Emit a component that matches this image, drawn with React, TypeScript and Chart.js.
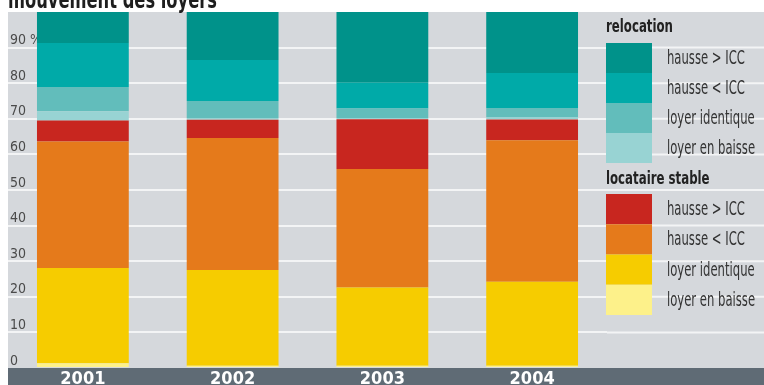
import React, { useEffect, useRef } from "react";
import { Chart, registerables } from "chart.js";

Chart.register(...registerables);

const TITLE = "mouvement des loyers";
const years = ["2001", "2002", "2003", "2004"];
const yTicks = [0, 10, 20, 30, 40, 50, 60, 70, 80, 90, 100];

// locataire stable (bottom of stack)
const stableBaisse = [1.3, 0.6, 0.6, 0.6];
const stableIdentique = [26.8, 26.9, 22.0, 23.6];
const stableHausseInf = [35.5, 37.1, 33.3, 39.8];
const stableHausseSup = [5.9, 5.1, 14.0, 5.8];
// relocation (top of stack)
const relocBaisse = [2.6, 0.5, 0.3, 0.7];
const relocIdentique = [6.8, 4.8, 2.7, 2.5];
const relocHausseInf = [12.4, 11.5, 7.2, 9.9];
const relocHausseSup = [8.7, 13.5, 19.9, 17.1];

const groupNames = ["relocation", "locataire stable"];
const seriesNames = ["hausse > ICC", "hausse < ICC", "loyer identique", "loyer en baisse"];

const COND = '"DejaVu Sans Condensed", "Liberation Sans Narrow", "DejaVu Sans", sans-serif';

const series = [
  { group: 1, label: seriesNames[3], data: stableBaisse, color: "#fdf18a" },
  { group: 1, label: seriesNames[2], data: stableIdentique, color: "#f6cc00" },
  { group: 1, label: seriesNames[1], data: stableHausseInf, color: "#e57a1b" },
  { group: 1, label: seriesNames[0], data: stableHausseSup, color: "#c8261f" },
  { group: 0, label: seriesNames[3], data: relocBaisse, color: "#98d3d3" },
  { group: 0, label: seriesNames[2], data: relocIdentique, color: "#62bdbb" },
  { group: 0, label: seriesNames[1], data: relocHausseInf, color: "#00aaa8" },
  { group: 0, label: seriesNames[0], data: relocHausseSup, color: "#00928a" },
];

function squeezeText(ctx: any, text: string, x: number, y: number, sx: number) {
  ctx.save();
  ctx.translate(x, y);
  ctx.scale(sx, 1);
  ctx.fillText(text, 0, 0);
  ctx.restore();
}

const decorPlugin = {
  id: "decor",
  beforeDraw(chart: any) {
    const { ctx, chartArea, width, height } = chart;
    ctx.save();
    ctx.fillStyle = "#ffffff";
    ctx.fillRect(0, 0, width, height);
    ctx.fillStyle = "#d5d8dc";
    ctx.fillRect(8, chartArea.top, width - 8, chartArea.bottom - chartArea.top);
    ctx.fillStyle = "#5f6b75";
    ctx.fillRect(8, chartArea.bottom, width - 8, height - chartArea.bottom);
    // title (cropped at top like the reference)
    ctx.font = `bold 25px ${COND}`;
    ctx.fillStyle = "#1e1e1e";
    ctx.textBaseline = "alphabetic";
    ctx.textAlign = "left";
    const w = ctx.measureText(TITLE).width;
    squeezeText(ctx, TITLE, 8, 7.5, 209 / w);
    ctx.restore();
  },
  beforeDatasetsDraw(chart: any) {
    const { ctx, chartArea, width } = chart;
    const y = chart.scales.y;
    ctx.save();
    ctx.strokeStyle = "#f3f4f5";
    ctx.lineWidth = 2;
    yTicks.forEach((v) => {
      if (v === 0 || v === 100) return;
      const py = y.getPixelForValue(v);
      ctx.beginPath();
      ctx.moveTo(chartArea.right, py);
      ctx.lineTo(width, py);
      ctx.stroke();
    });
    ctx.restore();
  },
  afterDraw(chart: any) {
    const { ctx, chartArea } = chart;
    const sx = chartArea.right - 1;
    const sw = 46;
    const tx = chartArea.right + 60;
    const groups = [
      { name: groupNames[0], headY: 28, top: 43, h: 30 },
      { name: groupNames[1], headY: 180, top: 194, h: 30.25 },
    ];
    ctx.save();
    ctx.textAlign = "left";
    ctx.textBaseline = "middle";
    groups.forEach((g, gi) => {
      ctx.font = `bold 17px ${COND}`;
      ctx.fillStyle = "#222222";
      squeezeText(ctx, g.name, sx, g.headY, 0.77);
      const items = chart.data.datasets
        .map((d: any, i: number) => ({ d, i }))
        .filter((o: any) => series[o.i].group === gi)
        .reverse();
      items.forEach((o: any, k: number) => {
        const top = g.top + k * g.h;
        ctx.fillStyle = o.d.backgroundColor;
        ctx.fillRect(sx, top, sw, g.h);
        ctx.font = `19px ${COND}`;
        ctx.fillStyle = "#333333";
        squeezeText(ctx, o.d.label, tx, top + g.h / 2 + 1, 0.68);
      });
    });
    ctx.restore();
  },
};

export default function App() {
  const ref = useRef<HTMLCanvasElement | null>(null);
  useEffect(() => {
    if (!ref.current) return;
    const chart = new Chart(ref.current, {
      type: "bar",
      data: {
        labels: years,
        datasets: series.map((s) => ({
          label: s.label,
          data: s.data,
          backgroundColor: s.color,
          borderWidth: 0,
          barPercentage: 0.613,
          categoryPercentage: 1,
        })),
      },
      options: {
        responsive: false,
        animation: false,
        maintainAspectRatio: false,
        layout: { padding: { left: 4, top: 12, right: 157, bottom: 0 } },
        plugins: { legend: { display: false }, tooltip: { enabled: false }, title: { display: false } },
        scales: {
          x: {
            stacked: true,
            grid: { display: false, drawTicks: false },
            border: { display: false },
            ticks: {
              color: "#ffffff",
              font: { family: COND, size: 18, weight: "bold" },
              padding: 1,
              maxRotation: 0,
            },
            afterFit: (scale: any) => {
              scale.height = 17;
            },
          },
          y: {
            stacked: true,
            min: 0,
            max: 100,
            afterBuildTicks: (scale: any) => {
              scale.ticks = yTicks.map((v) => ({ value: v }));
            },
            grid: {
              color: (c: any) => (c.tick && (c.tick.value === 100 || c.tick.value === 0) ? "rgba(0,0,0,0)" : "#f3f4f5"),
              lineWidth: 2,
              drawTicks: false,
            },
            border: { display: false },
            ticks: {
              mirror: true,
              padding: 2,
              labelOffset: -7,
              color: "#4a4a4a",
              font: { family: COND, size: 14 },
              callback: (v: any) => (v === 100 ? "" : v === 90 ? "90 %" : String(v)),
            },
          },
        },
      },
      plugins: [decorPlugin],
    });
    return () => chart.destroy();
  }, []);
  return (
    <div style={{ position: "fixed", left: 0, top: 0, width: 764, height: 385 }}>
      <canvas ref={ref} width={764} height={385} style={{ display: "block" }} />
    </div>
  );
}
